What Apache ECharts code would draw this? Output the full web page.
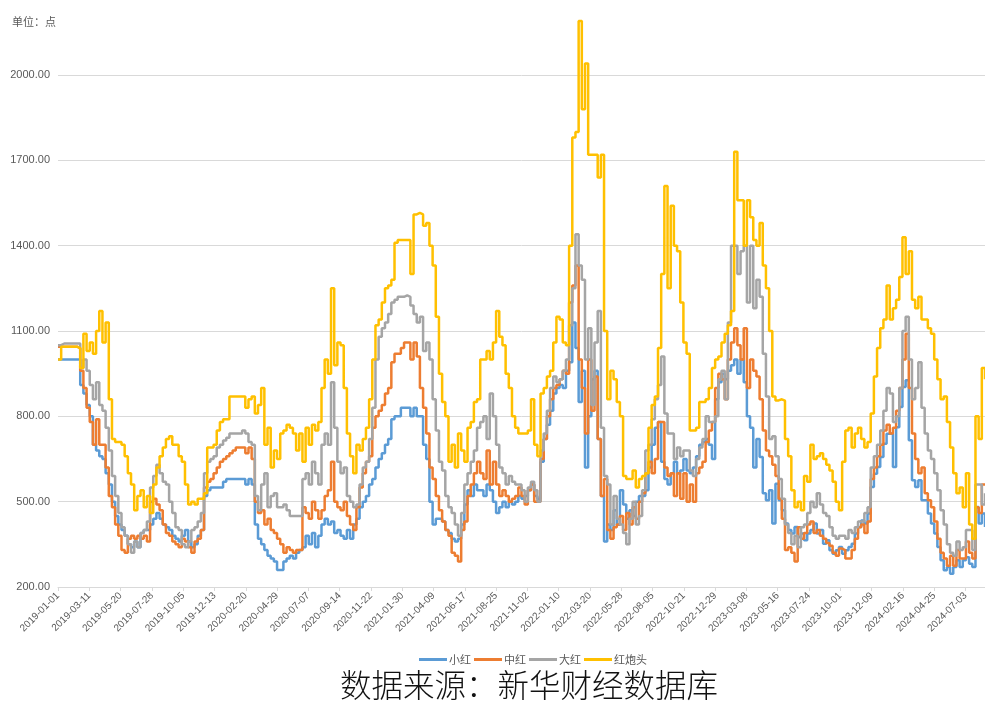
<!DOCTYPE html>
<html>
<head>
<meta charset="utf-8">
<title>红枣价格指数</title>
<script src="https://cdn.jsdelivr.net/npm/echarts@6/dist/echarts.min.js"></script>
<style>
  html, body { margin: 0; padding: 0; background: #fff; }
  #chart { width: 985px; height: 701px; }
</style>
</head>
<body>
<div id="chart"></div>
<script>
// 日期：2019-01-01 ~ 2024-08-15 逐日（节假日无数据），取值每 7 个交易日一个点
const startDate = '2019-01-01'
const endDate = '2024-08-15'
const missingDates = [
  '2019-05-01', '2022-09-12', '2022-10-01', '2022-10-02', '2022-10-03',
  '2022-10-04', '2022-10-05', '2022-10-06', '2022-10-07'
]
const sampleStep = 7
const labelEvery = 69

// 系列名称
const seriesNames = ['小红', '中红', '大红', '红炮头']

// 小红
const xiaoHong = [
  1000, 1000, 1000, 1000, 1000, 1000, 1000, 910, 880, 840,
  800, 700, 680, 660, 650, 600, 560, 500, 450, 420,
  400, 380, 350, 340, 360, 340, 390, 400, 400, 420,
  440, 460, 440, 420, 410, 400, 380, 370, 360, 380,
  400, 360, 340, 350, 380, 400, 520, 540, 550, 550,
  550, 550, 570, 580, 580, 580, 580, 580, 580, 560,
  580, 560, 420, 370, 350, 330, 310, 300, 290, 260,
  260, 290, 300, 310, 300, 320, 330, 340, 380, 350,
  390, 340, 380, 420, 440, 420, 430, 390, 400, 380,
  370, 400, 370, 420, 440, 480, 500, 520, 560, 580,
  620, 650, 670, 700, 720, 790, 800, 800, 830, 830,
  830, 800, 830, 800, 800, 700, 650, 500, 420, 440,
  440, 430, 400, 390, 370, 360, 370, 420, 490, 540,
  520, 560, 540, 540, 520, 560, 540, 500, 460, 480,
  500, 480, 500, 490, 500, 520, 510, 520, 540, 560,
  520, 510, 640, 720, 770, 820, 880, 900, 910, 900,
  960, 990, 1130, 1040, 850, 960, 620, 800, 930, 960,
  720, 520, 360, 420, 400, 470, 420, 540, 490, 440,
  470, 450, 500, 520, 520, 540, 620, 700, 760, 780,
  640, 580, 560, 600, 640, 600, 610, 650, 610, 600,
  620, 660, 700, 710, 720, 700, 650, 860, 920, 950,
  930, 960, 980, 1000, 950, 1000, 920, 800, 760, 620,
  720, 657, 530, 505, 540, 423, 563, 505, 470, 423,
  400, 388, 411, 376, 388, 364, 388, 400, 423, 388,
  400, 352, 364, 329, 317, 329, 341, 317, 329, 341,
  352, 388, 411, 434, 423, 458, 552, 598, 622, 657,
  704, 739, 739, 622, 762, 833, 903, 927, 716, 575,
  552, 575, 505, 505, 458, 423, 388, 341, 294, 259,
  270, 247, 270, 294, 270, 294, 305, 282, 270, 481,
  423, 458, 411
]

// 中红
const zhongHong = [
  1045, 1045, 1045, 1045, 1045, 1045, 1040, 960, 900, 830,
  780, 700, 790, 700, 700, 620, 520, 480, 420, 380,
  330, 320, 370, 380, 370, 380, 370, 380, 360, 500,
  510, 490, 470, 420, 390, 380, 360, 350, 340, 370,
  360, 340, 320, 360, 370, 400, 550, 570, 580, 600,
  620, 640, 650, 660, 670, 680, 690, 690, 690, 670,
  690, 650, 500, 460, 470, 420, 440, 400, 390, 370,
  350, 320, 340, 330, 320, 330, 330, 480, 460, 440,
  500, 470, 440, 470, 520, 540, 640, 500, 480, 470,
  500, 450, 420, 400, 480, 550, 600, 640, 660, 760,
  800, 820, 840, 880, 900, 990, 1020, 1020, 1040, 1060,
  1060, 1000, 1060, 1010, 900, 830, 740, 620, 580, 520,
  470, 430, 400, 380, 320, 310, 290, 400, 430, 520,
  560, 600, 640, 600, 580, 680, 560, 640, 560, 520,
  540, 520, 500, 510, 520, 550, 520, 490, 540, 560,
  500, 500, 650, 720, 800, 860, 900, 910, 930, 960,
  950, 1200, 1260, 1330, 1000, 900, 740, 1000, 820, 940,
  720, 520, 580, 400, 370, 410, 420, 450, 400, 460,
  420, 480, 440, 500, 530, 600, 640, 600, 650, 780,
  780, 620, 590, 600, 520, 600, 510, 600, 500, 560,
  500, 600, 620, 640, 710, 750, 780, 900, 950, 930,
  860, 1000, 1060, 1110, 1050, 1000, 1110, 900, 1000, 960,
  940, 860, 750, 680, 660, 630, 590, 510, 440, 330,
  340, 320, 290, 410, 370, 390, 420, 430, 390, 400,
  380, 370, 355, 345, 320, 310, 335, 330, 300, 300,
  330, 370, 410, 420, 390, 430, 580, 620, 660, 700,
  750, 770, 740, 760, 820, 900, 1000, 1090, 900, 740,
  650, 600, 620, 530, 505, 480, 430, 370, 320, 300,
  275, 310, 275, 330, 300, 300, 360, 320, 300, 480,
  460, 560, 560
]

// 大红
const daHong = [
  1050, 1056, 1056, 1056, 1056, 1056, 1056, 970, 1000, 960,
  910, 860, 920, 840, 820, 760, 680, 590, 520, 460,
  410, 380, 350, 320, 360, 340, 390, 400, 430, 550,
  590, 630, 600, 570, 560, 500, 460, 410, 400, 350,
  340, 360, 400, 410, 430, 460, 600, 640, 650, 660,
  690, 700, 715, 725, 740, 740, 740, 740, 750, 740,
  710, 700, 520, 470, 560, 600, 480, 520, 530, 480,
  480, 490, 470, 450, 450, 450, 450, 580, 600, 560,
  640, 600, 560, 700, 740, 700, 920, 760, 640, 600,
  620, 520, 500, 480, 490, 560, 620, 640, 720, 830,
  1000, 1080, 1110, 1130, 1160, 1200, 1210, 1220, 1220, 1225,
  1220, 1190, 1160, 1130, 1150, 1030, 1060, 1000, 860, 750,
  640, 610, 520, 480, 460, 420, 380, 460, 560, 600,
  640, 680, 760, 780, 800, 720, 880, 800, 700, 620,
  600, 560, 590, 570, 560, 560, 540, 500, 550, 570,
  540, 500, 680, 740, 820, 900, 940, 920, 930, 960,
  1000, 1120, 1250, 1440, 1330, 1280, 1000, 1110, 840, 1060,
  1170, 760, 590, 560, 420, 520, 440, 420, 390, 350,
  440, 500, 420, 450, 540, 680, 700, 790, 860, 910,
  1010, 810, 740, 740, 650, 690, 660, 680, 680, 610,
  590, 650, 690, 720, 800, 780, 780, 800, 930, 960,
  860, 1130, 1400, 1400, 1300, 1380, 1400, 1200, 1400, 1180,
  1280, 1220, 1020, 870, 720, 730, 660, 580, 510, 420,
  390, 350, 380, 340, 410, 420, 460, 500, 480, 530,
  490, 460, 450, 410, 380, 370, 380, 380, 370, 400,
  390, 410, 430, 430, 460, 480, 620, 660, 700, 750,
  820, 900, 880, 780, 800, 900, 1100, 1150, 1000, 860,
  900, 990, 830, 740, 680, 650, 600, 540, 470, 420,
  350, 320, 310, 360, 330, 340, 400, 400, 330, 560,
  560, 490, 530
]

// 红炮头
const hongPaoTou = [
  1000, 1045, 1045, 1045, 1045, 1045, 1040, 970, 1090, 1030,
  1060, 1020, 1100, 1170, 1060, 1130, 860, 720, 710, 710,
  700, 660, 600, 560, 470, 520, 540, 480, 520, 460,
  560, 620, 660, 690, 720, 730, 700, 700, 660, 640,
  560, 490, 500, 490, 510, 510, 530, 690, 690, 700,
  750, 780, 790, 790, 870, 870, 870, 870, 870, 830,
  860, 870, 810, 840, 900, 700, 760, 620, 680, 650,
  740, 750, 770, 760, 740, 680, 740, 640, 760, 700,
  770, 750, 780, 900, 1000, 950, 1250, 980, 1060, 1050,
  900, 740, 660, 600, 700, 680, 720, 760, 860, 1000,
  1120, 1140, 1200, 1250, 1260, 1280, 1410, 1420, 1420, 1420,
  1420, 1300, 1510, 1515, 1510, 1470, 1480, 1400, 1330, 1150,
  950, 850, 800, 640, 700, 620, 740, 680, 640, 760,
  780, 850, 860, 1000, 1000, 1030, 1000, 1060, 1170, 1080,
  1050, 950, 900, 800, 760, 740, 740, 740, 750, 860,
  700, 660, 880, 900, 940, 960, 1060, 1150, 1140, 1060,
  1050, 1400, 1780, 1800, 2190, 1880, 2040, 1720, 1720, 1720,
  1640, 1720, 1100, 860, 960, 930, 850, 800, 590, 580,
  580, 610, 550, 580, 590, 600, 760, 840, 870, 1040,
  1300, 1610, 1250, 1540, 1400, 1380, 1200, 1060, 1020, 750,
  750, 760, 850, 850, 860, 900, 970, 1000, 1010, 1060,
  1090, 1120, 1170, 1730, 1560, 1560, 1400, 1560, 1500, 1420,
  1400, 1480, 1330, 1250, 1100, 870, 856, 860, 855, 720,
  660, 540, 480, 500, 470, 590, 570, 700, 650, 660,
  670, 650, 630, 610, 570, 500, 470, 640, 750, 760,
  690, 740, 760, 720, 690, 710, 810, 940, 1040, 1110,
  1140, 1260, 1140, 1180, 1210, 1290, 1430, 1300, 1380, 1210,
  1180, 1220, 1140, 1140, 1110, 1090, 1000, 930, 860, 870,
  780, 690, 600, 530, 550, 480, 600, 420, 370, 800,
  720, 970, 930
]

// y 轴刻度
const yMin = 200
const yMax = 2000
const yStep = 300

const colors = ['#5B9BD5', '#ED7D31', '#A5A5A5', '#FFC000']

// 交易日期（去掉无数据的日期）
const dates = []
const endTime = new Date(endDate + 'T00:00:00Z').getTime()
for (let t = new Date(startDate + 'T00:00:00Z').getTime(); t <= endTime; t += 86400000) {
  const s = new Date(t).toISOString().slice(0, 10)
  if (!missingDates.includes(s)) dates.push(s)
}

const toPairs = (vals) => vals.map((v, i) => [i * sampleStep, v])

const chart = echarts.init(document.getElementById('chart'))
const labelFont = 'Liberation Sans, Noto Sans CJK SC, sans-serif'

chart.setOption({
  animation: false,
  color: colors,
  title: {
    text: '单位：点',
    left: 7,
    top: 11,
    textStyle: { fontSize: 11, color: '#595959', fontWeight: 'normal', fontFamily: 'Noto Sans CJK SC' }
  },
  legend: {
    data: seriesNames,
    left: 414,
    top: 649,
    icon: 'rect',
    itemWidth: 28,
    itemHeight: 3,
    itemGap: 3,
    textStyle: { fontSize: 11, color: '#595959', fontFamily: 'Noto Sans CJK SC', padding: [0, 0, 0, -3] }
  },
  grid: { left: 58, right: 0, top: 75, bottom: 114 },
  xAxis: {
    type: 'category',
    data: dates,
    boundaryGap: false,
    axisLine: { lineStyle: { color: '#d9d9d9' } },
    axisTick: { show: true, interval: labelEvery - 1, length: 4, lineStyle: { color: '#d9d9d9' } },
    axisLabel: {
      interval: labelEvery - 1,
      rotate: 45,
      fontSize: 10,
      color: '#595959',
      margin: 7,
      fontFamily: labelFont,
      padding: [0, 0, 0, 8]
    },
    splitLine: { show: false }
  },
  yAxis: {
    type: 'value',
    min: yMin,
    max: yMax,
    interval: yStep,
    axisLine: { show: false },
    axisTick: { show: false },
    axisLabel: { fontSize: 11, color: '#595959', margin: 8, fontFamily: labelFont, formatter: (v) => v.toFixed(2) },
    splitLine: { lineStyle: { color: '#d9d9d9', width: 1 } }
  },
  series: [xiaoHong, zhongHong, daHong, hongPaoTou].map((vals, i) => ({
    name: seriesNames[i],
    type: 'line',
    data: toPairs(vals),
    step: 'end',
    showSymbol: false,
    clip: false,
    lineStyle: { width: 2.5, color: colors[i] },
    emphasis: { disabled: true }
  })),
  graphic: [{
    type: 'text',
    left: 340,
    top: 669,
    style: {
      text: '数据来源：新华财经数据库',
      font: '300 31.5px "Noto Sans CJK SC"',
      fill: '#111'
    }
  }]
})
</script>
</body>
</html>
